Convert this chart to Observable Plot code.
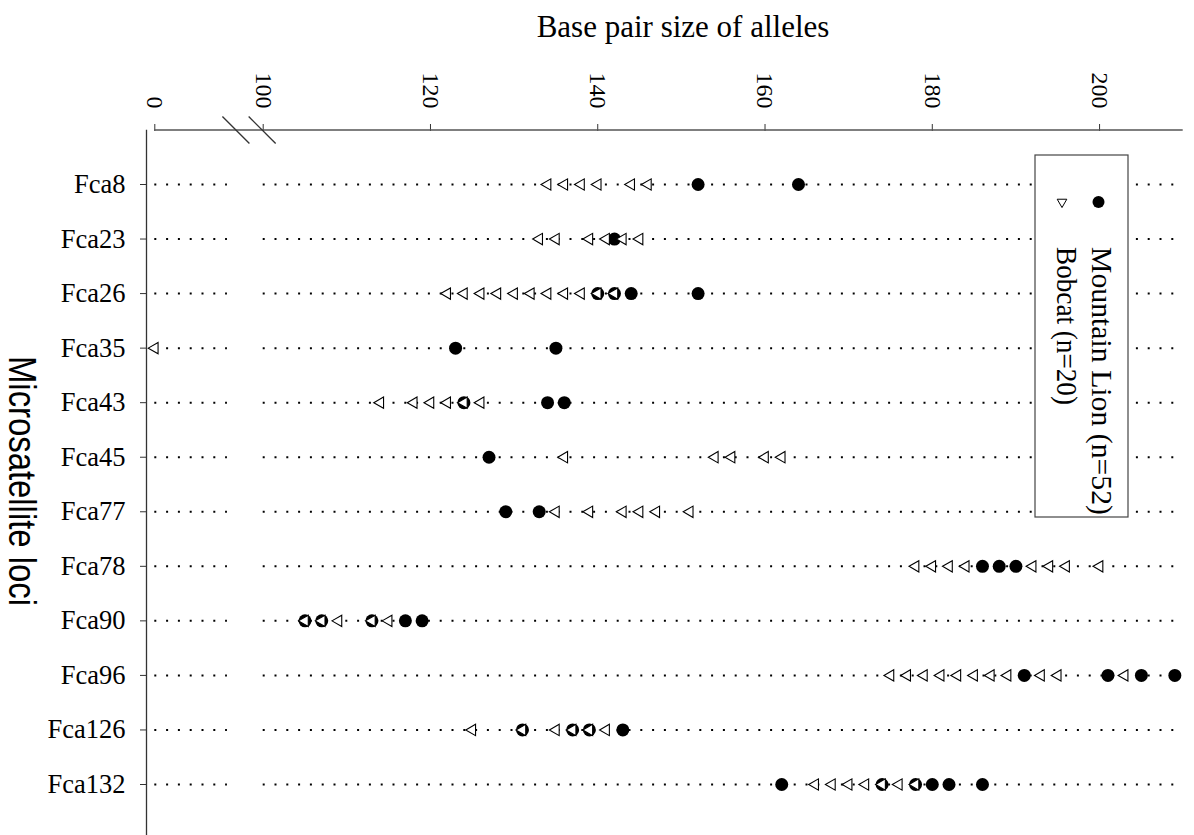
<!DOCTYPE html>
<html><head><meta charset="utf-8">
<script src="https://cdn.jsdelivr.net/npm/d3@7"></script>
<script src="https://cdn.jsdelivr.net/npm/@observablehq/plot@0.6"></script>
<style>body{margin:0;background:#fff} #chart svg{display:block}</style>
</head><body><div id="chart"></div>
<script>
// ---- data ----
const loci = ["Fca8","Fca23","Fca26","Fca35","Fca43","Fca45","Fca77","Fca78","Fca90","Fca96","Fca126","Fca132"];
const lionAlleles = [
  [152, 164],
  [142],
  [140, 142, 144, 152],
  [123, 135],
  [124, 134, 136],
  [127],
  [129, 133],
  [186, 188, 190],
  [105, 107, 113, 117, 119],
  [191, 201, 205, 209],
  [131, 137, 139, 143],
  [162, 174, 178, 180, 182, 186]
];
const bobcatAlleles = [
  [134, 136, 138, 140, 144, 146],
  [133, 135, 139, 141, 143, 145],
  [122, 124, 126, 128, 130, 132, 134, 136, 138, 140, 142],
  [0],
  [114, 118, 120, 122, 124, 126],
  [136, 154, 156, 160, 162],
  [135, 139, 143, 145, 147, 151],
  [178, 180, 182, 184, 192, 194, 196, 200],
  [105, 107, 109, 113, 115],
  [175, 177, 179, 181, 183, 185, 187, 189, 193, 195, 203],
  [125, 131, 135, 137, 139, 141],
  [166, 168, 170, 172, 174, 176, 178]
];
const xTicks = [0, 100, 120, 140, 160, 180, 200];
const seriesNames = ["Mountain Lion (n=52)", "Bobcat (n=20)"];
const xTitle = "Base pair size of alleles";
const yTitle = "Microsatellite loci";

// ---- layout constants ----
const W = 1194, H = 835, MT = 130, ML = 146, MR = 11;
const xDomain = [0, 100, 210];
const xRange = [154.3, 262.7, 1182.7];
const guideSegments = [[0, 67], [100, 210]];
const breakMarks = [75.3, 99.5];

const lion = loci.flatMap((l, i) => lionAlleles[i].map(bp => ({locus: l, bp})));
const bobcat = loci.flatMap((l, i) => bobcatAlleles[i].map(bp => ({locus: l, bp})));
const guides = loci.flatMap(l => guideSegments.map(([a, b]) => ({locus: l, a, b})));

const serif = "'Liberation Serif','Times New Roman',Times,serif";
const narrow = "'Liberation Sans Narrow','Arial Narrow','Liberation Sans',Arial,sans-serif";

const plot = Plot.plot({
  width: W, height: H,
  marginTop: MT, marginLeft: ML, marginRight: MR, marginBottom: 0,
  style: {fontFamily: serif, background: "#fff", color: "#000"},
  x: {type: "linear", domain: xDomain, range: xRange},
  y: {type: "point", domain: loci, range: [184, 784], padding: 0, round: false},
  marks: [
    Plot.frame({anchor: "left", stroke: "#333", strokeWidth: 1.3}),
    Plot.ruleY(guides, {y: "locus", x1: "a", x2: "b", stroke: "#000", strokeWidth: 2, strokeDasharray: "2,9.8"}),
    Plot.dot(lion, {x: "bp", y: "locus", r: 6.5, fill: "#000", stroke: null}),
    Plot.dot(bobcat, {x: "bp", y: "locus", symbol: "triangle", r: 4.2, rotate: -90, fill: "#fff", stroke: "#000", strokeWidth: 1.1}),
    Plot.axisX({anchor: "top", ticks: xTicks, tickSize: 7, tickPadding: 15, tickRotate: 90, fontSize: 24, label: null, tickFormat: d => String(d), stroke: "#333"}),
    Plot.axisY({anchor: "left", tickSize: 6, tickPadding: 15, fontSize: 26.5, label: null, stroke: "#333"}),
    Plot.text([xTitle], {text: d => d, frameAnchor: "top", lineAnchor: "middle", textAnchor: "middle", dx: 18, dy: -103, fontSize: 31}),
    Plot.text([yTitle], {text: d => d, frameAnchor: "left", lineAnchor: "middle", textAnchor: "middle", dx: -125, dy: -2, rotate: 90, fontSize: 38, fontFamily: narrow, className: "ytitle"})
  ]
});

const svg = d3.select(plot);
// condense the y title to the narrow face width
svg.selectAll(".ytitle text").attr("textLength", 250).attr("lengthAdjust", "spacingAndGlyphs");
const xs = plot.scale("x");
// x axis line
svg.append("line")
  .attr("x1", xs.apply(xDomain[0])).attr("x2", xs.apply(xDomain[xDomain.length - 1]))
  .attr("y1", MT).attr("y2", MT)
  .attr("stroke", "#555").attr("stroke-width", 1.4);
// axis break slashes
for (const v of breakMarks) {
  const cx = xs.apply(v);
  svg.append("line")
    .attr("x1", cx - 13.5).attr("y1", MT - 13.5)
    .attr("x2", cx + 13.5).attr("y2", MT + 13.5)
    .attr("stroke", "#333").attr("stroke-width", 1.3);
}
// legend
const lg = svg.append("g");
lg.append("rect").attr("x", 1035).attr("y", 155).attr("width", 93).attr("height", 362)
  .attr("fill", "#fff").attr("stroke", "#444").attr("stroke-width", 1.2);
lg.append("circle").attr("cx", 1098.5).attr("cy", 202).attr("r", 6).attr("fill", "#000");
lg.append("path").attr("d", d3.symbol(d3.symbolTriangle, 40)())
  .attr("transform", "translate(1062,202) rotate(180)")
  .attr("fill", "#fff").attr("stroke", "#000").attr("stroke-width", 1);
[[1101, seriesNames[0], 268], [1066, seriesNames[1], 158]].forEach(([x, t, len]) => {
  lg.append("text").attr("transform", `translate(${x},247) rotate(90)`)
    .attr("text-anchor", "start").attr("dominant-baseline", "central")
    .attr("font-family", serif).attr("font-size", 28.5).attr("fill", "#000")
    .attr("textLength", len).attr("lengthAdjust", "spacingAndGlyphs").text(t);
});

document.getElementById("chart").appendChild(plot);
</script>
</body></html>
